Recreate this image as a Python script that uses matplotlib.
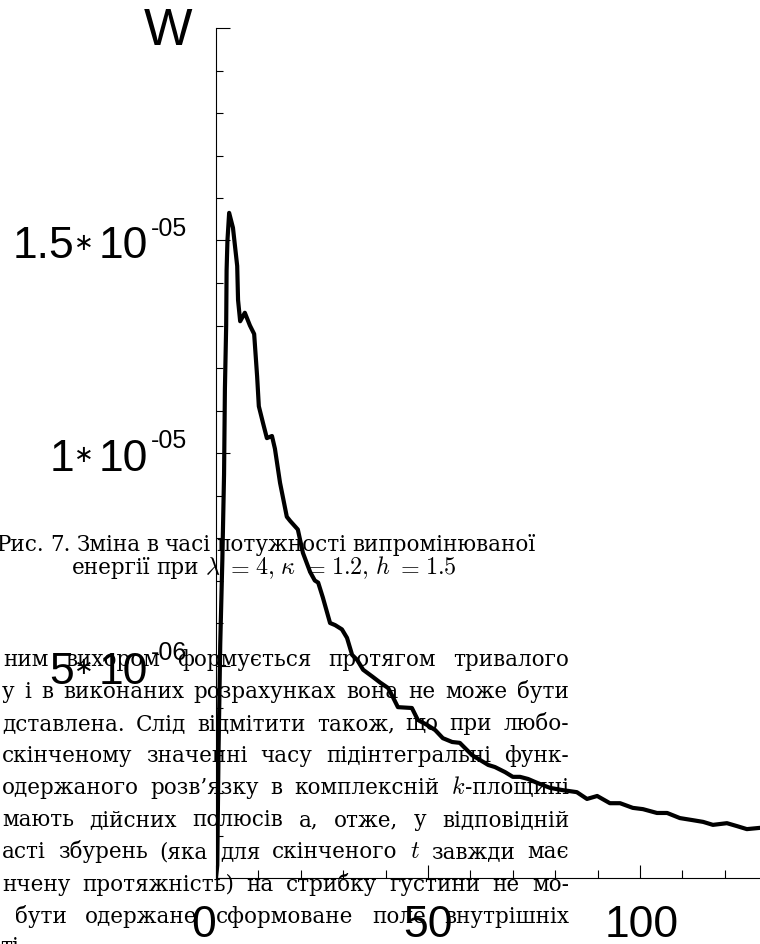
import numpy as np
import matplotlib.pyplot as plt
from matplotlib.ticker import MultipleLocator
from matplotlib.transforms import offset_copy

plt.rcParams['mathtext.fontset'] = 'cm'

# radiated power W(t), W in units of 1e-6
t_vals = [0.0, 0.3, 0.6, 1.0, 1.5, 1.9, 2.1, 2.4, 2.5, 2.7, 3.1,
          4.0, 5.0, 5.2, 5.7, 6.8, 8.0, 9.0, 9.7, 10.1, 11.1, 12.0, 13.2, 13.9,
          15.1, 16.7, 17.5, 19.3, 20.5, 22.2, 23.3, 24.1, 25.2, 26.9, 28.1,
          29.7, 30.9, 32.1, 33.3, 34.7, 37.0, 38.7, 40.6, 41.7, 42.9, 46.2,
          47.6, 49.8, 51.7, 53.5, 55.7, 57.5, 60.4, 64.2, 65.8, 68.2, 70.0,
          71.7, 73.6, 75.7, 78.8, 81.6, 85.1, 87.5, 89.9, 92.9, 95.3, 98.3,
          100.7, 104.0, 106.4, 109.4, 112.5, 114.9, 117.2, 120.5, 122.9,
          125.2, 128.3]
w_vals = [0.0, 0.3, 3.0, 5.5, 7.5, 9.5, 11.5, 13.0, 14.3, 15.0, 15.65,
          15.3, 14.4, 13.6, 13.1, 13.3, 13.0, 12.8, 11.8, 11.1, 10.7, 10.35, 10.4, 10.1,
          9.3, 8.5, 8.4, 8.2, 7.65, 7.2, 7.0, 6.95, 6.6, 6.0, 5.95,
          5.85, 5.65, 5.25, 5.13, 4.9, 4.73, 4.6, 4.47, 4.26, 4.02, 4.0,
          3.72, 3.6, 3.48, 3.29, 3.2, 3.18, 2.89, 2.66, 2.61, 2.49, 2.38,
          2.38, 2.33, 2.24, 2.12, 2.07, 2.02, 1.86, 1.93, 1.76, 1.76, 1.65,
          1.62, 1.53, 1.53, 1.41, 1.36, 1.32, 1.25, 1.29, 1.22,
          1.15, 1.18]

y_ticks = [5e-6, 1e-5, 1.5e-5]
y_mant = ["5", "1", "1.5"]
y_exp = ["-06", "-05", "-05"]
x_ticks = [0, 50, 100]
x_tick_labels = ["0", "50", "100"]
x_label_shift = [-12, 0, 2]

caption_lines = [
    "Рис. 7. Зміна в часі потужності випромінюваної",
    r"енергії при $\lambda$ $=$ $4,$ $\kappa$ $=$ $1.2,$ $h$ $=$ $1.5$",
]
body_lines = [
    "ним вихором формується протягом тривалого",
    "у і в виконаних розрахунках вона не може бути",
    "дставлена. Слід відмітити також, що при любо-",
    "скінченому значенні часу підінтегральні функ-",
    "одержаного розв’язку в комплексній $k$|-площині",
    "мають дійсних полюсів а, отже, у відповідній",
    "асті збурень (яка для скінченого $t$ завжди має",
    "нчену протяжність) на стрибку густини не мо-",
    "бути одержане сформоване поле внутрішніх",
    "ті.",
]

W, H = 760, 944
fig = plt.figure(figsize=(7.6, 9.44), dpi=100)
ax = fig.add_axes([216 / W, 66 / H, 544 / W, 850 / H])
ax.patch.set_alpha(0)

ax.plot(t_vals, np.array(w_vals) * 1e-6, color='black', lw=3.0,
        solid_joinstyle='round', zorder=5)

ax.set_xlim(0, 128.3)
ax.set_ylim(0, 2e-5)
for s in ['top', 'right']:
    ax.spines[s].set_visible(False)
for s in ['left', 'bottom']:
    ax.spines[s].set_linewidth(0.8)

ax.xaxis.set_major_locator(MultipleLocator(50))
ax.xaxis.set_minor_locator(MultipleLocator(10))
ax.yaxis.set_major_locator(MultipleLocator(5e-6))
ax.yaxis.set_minor_locator(MultipleLocator(1e-6))
ax.tick_params(axis='y', which='major', direction='in', length=10, width=0.8)
ax.tick_params(axis='y', which='minor', direction='in', length=5, width=0.8)
ax.tick_params(axis='x', which='major', direction='in', length=9.4, width=0.8)
ax.tick_params(axis='x', which='minor', direction='in', length=5.8, width=0.8)
ax.set_xticklabels([])
ax.set_yticklabels([])

sans = ['Liberation Sans', 'DejaVu Sans']
serif = ['DejaVu Serif']


def ylab_part(v, s, dx, dy, size, ha):
    ax.text(0, v, s, ha=ha, va='baseline', fontsize=size, family=sans,
            transform=offset_copy(ax.get_yaxis_transform(), fig=fig,
                                  x=dx, y=dy, units='dots'))


# y tick labels like 1.5*10^-05
for v, m, e in zip(y_ticks, y_mant, y_exp):
    ylab_part(v, m, -142, -18, 32, 'right')
    ylab_part(v, "\u2217", -132, -9, 17, 'center')
    ylab_part(v, "10", -68, -18, 32, 'right')
    ylab_part(v, e, -65, 5, 18, 'left')

for v, lab, dx in zip(x_ticks, x_tick_labels, x_label_shift):
    ax.text(v, 0, lab, ha='center', va='baseline', fontsize=32, family=sans,
            transform=offset_copy(ax.get_xaxis_transform(), fig=fig,
                                  x=dx, y=-59, units='dots'))

fig.text(168 / W, 1 - 45 / H, "W", ha='center', va='baseline',
         fontsize=37, family=sans)

# page text behind the plot, laid out word by word
renderer = fig.canvas.get_renderer()


def place_line(line, x0, x1, y_base, size=15.5):
    groups = []
    for word in line.split(' '):
        pieces = []
        for p in word.split('|'):
            fs = size * 1.12 if '$' in p else size
            t = fig.text(0, 1 - y_base / H, p, fontsize=fs, family=serif,
                         ha='left', va='baseline', zorder=1)
            pieces.append((t, t.get_window_extent(renderer).width))
        groups.append(pieces)
    widths = [sum(wd for _, wd in g) for g in groups]
    if x1 is not None and len(groups) > 1:
        gap = (x1 - x0 - sum(widths)) / (len(groups) - 1)
    else:
        gap = 6
    x = x0
    for g in groups:
        for t, wd in g:
            t.set_x(x / W)
            x += wd
        x += gap


place_line(caption_lines[0], -3, 535, 551)
place_line(caption_lines[1], 72, 457, 574)

body_left = [3, 2, 2, 2, 2, 2, 2, 2, 15, 0]
body_base = [666, 698, 730, 762, 794, 826, 858, 891, 923, 953]
for i, line in enumerate(body_lines):
    right = 569 if i < 9 else None
    place_line(line, body_left[i], right, body_base[i])

fig.savefig("out.png", dpi=100)
